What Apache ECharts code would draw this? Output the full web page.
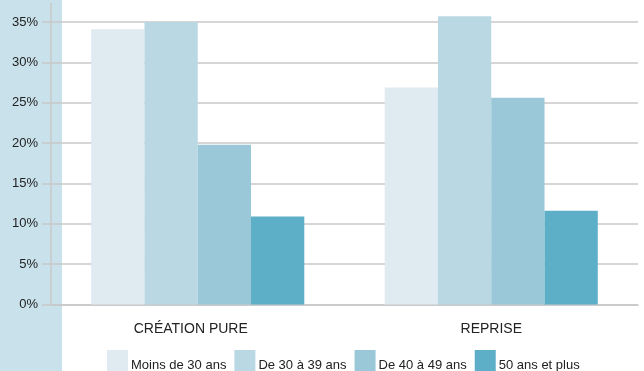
<!DOCTYPE html>
<html>
<head>
<meta charset="utf-8">
<script src="https://cdn.jsdelivr.net/npm/echarts@6/dist/echarts.min.js"></script>
<style>
  html, body { margin: 0; padding: 0; background: #fff; }
  #chart { width: 644px; height: 371px; }
</style>
</head>
<body>
<div id="chart"></div>
<script>
var categories = ['CRÉATION PURE', 'REPRISE'];
var seriesNames = ['Moins de 30 ans', 'De 30 à 39 ans', 'De 40 à 49 ans', '50 ans et plus'];
var moins30 = [34.1, 26.9];
var de30a39 = [35.0, 35.7];
var de40a49 = [19.8, 25.6];
var plus50 = [10.9, 11.6];
var colors = ['#dfeaf1', '#bad8e3', '#9ac8d9', '#5daec7'];

var font = '"Liberation Sans", Arial, sans-serif';
var values = [moins30, de30a39, de40a49, plus50];

var chart = echarts.init(document.getElementById('chart'), null, { renderer: 'canvas' });

var series = [];
for (var i = 0; i < seriesNames.length; i++) {
  series.push({
    name: seriesNames[i],
    type: 'bar',
    data: values[i],
    clip: false,
    barGap: '0%',
    barCategoryGap: '27.4%',
    itemStyle: { color: colors[i] },
    emphasis: { disabled: true }
  });
}

// first label sits a little left of its bar group in the original
var catData = categories.map(function (c, idx) {
  return idx === 0 ? { value: c, textStyle: { padding: [0, 14, 0, 0] } } : c;
});

var option = {
  animation: false,
  color: colors,
  graphic: [
    // light blue band behind the value axis
    { type: 'rect', z: -10, shape: { x: 0, y: 0, width: 62, height: 371 }, style: { fill: '#c9e1eb' } },
    { type: 'line', z: 10, shape: { x1: 51, y1: 3, x2: 51, y2: 22 }, style: { stroke: '#c8c8c8', lineWidth: 1.5 } }
  ],
  grid: { left: 51, right: 6, top: 22, bottom: 66.5 },
  legend: {
    data: seriesNames,
    left: 102,
    top: 345,
    itemWidth: 21,
    itemHeight: 30,
    itemGap: 8,
    icon: 'rect',
    textStyle: { fontFamily: font, fontSize: 13, color: '#222', padding: [0, 0, 0, -2] }
  },
  xAxis: {
    type: 'category',
    data: catData,
    axisLine: { lineStyle: { color: '#c8c8c8', width: 1.5 } },
    axisTick: { show: false },
    axisLabel: { fontFamily: font, fontSize: 14, color: '#222', margin: 18 }
  },
  yAxis: {
    type: 'value',
    min: 0,
    max: 35,
    interval: 5,
    axisLine: { show: true, lineStyle: { color: '#c8c8c8', width: 1.5 } },
    axisTick: { show: true, length: 9, lineStyle: { color: '#c8c8c8', width: 1.5 } },
    splitLine: { lineStyle: { color: '#c8c8c8', width: 1.5 } },
    axisLabel: { fontFamily: font, fontSize: 13, color: '#222', margin: 13, formatter: '{value}%' }
  },
  series: series
};

chart.setOption(option);
</script>
</body>
</html>
